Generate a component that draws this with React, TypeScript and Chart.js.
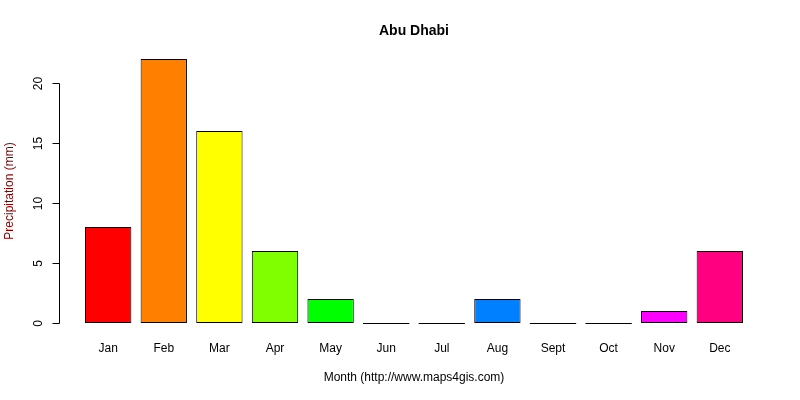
import { useEffect, useRef } from 'react'
import { Chart, registerables } from 'chart.js'

Chart.register(...registerables)

const months = ['Jan', 'Feb', 'Mar', 'Apr', 'May', 'Jun', 'Jul', 'Aug', 'Sept', 'Oct', 'Nov', 'Dec']
const precip = [8, 22, 16, 6, 2, 0, 0, 2, 0, 0, 1, 6]
const barColors = ['#FF0000', '#FF8000', '#FFFF00', '#80FF00', '#00FF00', '#00FF80', '#00FFFF', '#0080FF', '#0000FF', '#8000FF', '#FF00FF', '#FF0080']
const yTicks = [0, 5, 10, 15, 20]

// R barplot layout: bars of width 1 with 0.2 space, axes extended by 4%
const centers = months.map((_, i) => 0.7 + 1.2 * i)
const xLo = 0.2, xHi = 1.2 * months.length
const xPad = (xHi - xLo) * 0.04
const yMax = Math.max(...precip)
const yPad = yMax * 0.04

const FONT = '"Liberation Sans", Arial, sans-serif'

const rAxes = {
  id: 'rAxes',
  afterDatasetsDraw(chart: Chart) {
    const { ctx, chartArea } = chart
    const y = chart.scales.y
    const x = chart.scales.x
    ctx.save()
    // zero-height bars show as a flat outline
    const meta = chart.getDatasetMeta(0)
    ctx.strokeStyle = '#000'
    ctx.lineWidth = 1
    meta.data.forEach((el: any, i) => {
      if (precip[i] !== 0) return
      const p = el.getProps(['x', 'width', 'base'], true)
      const yy = Math.round(p.base) + 0.5
      ctx.beginPath()
      ctx.moveTo(p.x - p.width / 2, yy)
      ctx.lineTo(p.x + p.width / 2, yy)
      ctx.stroke()
    })
    // y axis
    const ax = Math.round(chartArea.left) + 0.5
    ctx.beginPath()
    ctx.moveTo(ax, Math.round(y.getPixelForValue(yTicks[0])) + 0.5)
    ctx.lineTo(ax, Math.round(y.getPixelForValue(yTicks[yTicks.length - 1])) + 0.5)
    ctx.stroke()
    ctx.font = `12px ${FONT}`
    ctx.fillStyle = '#000'
    ctx.textAlign = 'center'
    ctx.textBaseline = 'middle'
    yTicks.forEach(t => {
      const py = Math.round(y.getPixelForValue(t)) + 0.5
      ctx.beginPath()
      ctx.moveTo(ax, py)
      ctx.lineTo(ax - 7, py)
      ctx.stroke()
      ctx.save()
      ctx.translate(ax - 21, py)
      ctx.rotate(-Math.PI / 2)
      ctx.fillText(String(t), 0, 0)
      ctx.restore()
    })
    // month labels under the bars
    months.forEach((m, i) => ctx.fillText(m, x.getPixelForValue(centers[i]), 349))
    // axis titles and main title
    const midY = (chartArea.top + chartArea.bottom) / 2
    const midX = (chartArea.left + chartArea.right) / 2
    ctx.save()
    ctx.translate(10, midY)
    ctx.rotate(-Math.PI / 2)
    ctx.fillStyle = '#800000'
    ctx.fillText('Precipitation (mm)', 0, 0)
    ctx.restore()
    ctx.fillStyle = '#000'
    ctx.fillText('Month (http://www.maps4gis.com)', midX, 378)
    ctx.font = `bold 14px ${FONT}`
    ctx.fillText('Abu Dhabi', midX, 31)
    ctx.restore()
  },
}

export default function App() {
  const ref = useRef<HTMLCanvasElement>(null)
  const inst = useRef<Chart | null>(null)

  useEffect(() => {
    if (!ref.current) return
    if (inst.current) inst.current.destroy()
    inst.current = new Chart(ref.current, {
      type: 'bar',
      data: {
        datasets: [{
          data: precip.map((v, i) => ({ x: centers[i], y: v })),
          backgroundColor: barColors,
          borderColor: '#000',
          borderWidth: 1,
          borderSkipped: false,
          barPercentage: 1,
          categoryPercentage: 1 / 1.2,
        }],
      },
      options: {
        responsive: false,
        animation: false,
        events: [],
        layout: { padding: { left: 58.7, right: 30.7, top: 48.4, bottom: 66.4 } },
        plugins: { legend: { display: false }, tooltip: { enabled: false }, title: { display: false } },
        scales: {
          x: { type: 'linear', display: false, offset: false, bounds: 'data', min: xLo - xPad, max: xHi + xPad },
          y: { display: false, bounds: 'data', min: -yPad, max: yMax + yPad },
        },
      },
      plugins: [rAxes],
    })
    return () => inst.current?.destroy()
  }, [])

  return (
    <div style={{ position: 'absolute', left: 0, top: 0, width: 800, height: 400, background: '#fff' }}>
      <canvas ref={ref} width={800} height={400} style={{ display: 'block' }} />
    </div>
  )
}
